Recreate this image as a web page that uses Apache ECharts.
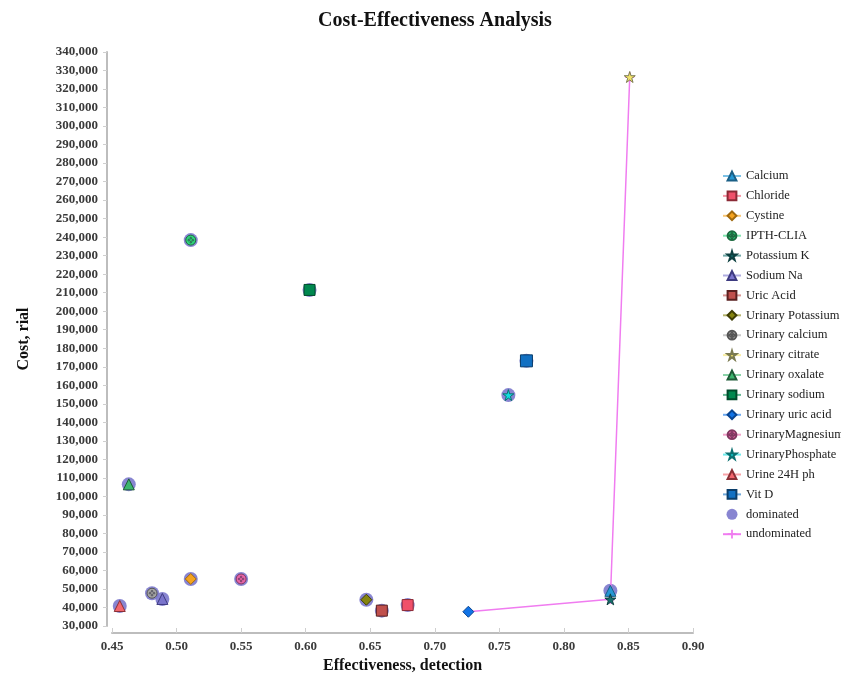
<!DOCTYPE html>
<html>
<head>
<meta charset="utf-8">
<script src="https://cdn.jsdelivr.net/npm/echarts@6/dist/echarts.min.js"></script>
<style>
html,body{margin:0;padding:0;background:#fff;}
#chart{width:841px;height:674px;}
</style>
</head>
<body>
<div id="chart"></div>
<script>
// ---- data ----
const categories = ['Calcium','Chloride','Cystine','IPTH-CLIA','Potassium K','Sodium Na','Uric Acid','Urinary Potassium','Urinary calcium','Urinary citrate','Urinary oxalate','Urinary sodium','Urinary uric acid','UrinaryMagnesium','UrinaryPhosphate','Urine 24H ph','Vit D'];
const effectiveness = [0.836, 0.679, 0.511, 0.511, 0.836, 0.489, 0.659, 0.647, 0.481, 0.851, 0.463, 0.603, 0.726, 0.550, 0.757, 0.456, 0.771];
const costs = [49000, 41300, 55400, 238400, 44400, 44600, 38300, 44200, 47700, 326500, 106500, 211500, 37700, 55400, 154700, 40800, 173200];
const undominatedNames = ['Urinary uric acid','Potassium K','Urinary citrate'];
const xTicks = {min:0.45, max:0.90, step:0.05};
const yTicks = {min:30000, max:340000, step:10000};

// ---- styles ----
const STAR = 'path://M50,0 L61,35 L98,35 L68,57 L79,91 L50,70 L21,91 L32,57 L2,35 L39,35 Z';
const CROSSED = 'path://M50,0 A50,50 0 1,1 50,100 A50,50 0 1,1 50,0 Z ' +
  'M50,22 A8,8 0 1,0 50,38 A8,8 0 1,0 50,22 Z ' +
  'M50,62 A8,8 0 1,0 50,78 A8,8 0 1,0 50,62 Z ' +
  'M30,42 A8,8 0 1,0 30,58 A8,8 0 1,0 30,42 Z ' +
  'M70,42 A8,8 0 1,0 70,58 A8,8 0 1,0 70,42 Z';
const styles = {
  'Calcium':          {symbol:'triangle', color:'#2598d4', border:'#1a5f86', size:11},
  'Chloride':         {symbol:'rect', color:'#f0506a', border:'#8a2a36', size:11},
  'Cystine':          {symbol:'diamond', color:'#f5a31e', border:'#a0690e', size:11},
  'IPTH-CLIA':        {symbol:CROSSED, color:'#2fd37a', border:'#1d6a40', size:10},
  'Potassium K':      {symbol:STAR, color:'#16706e', border:'#0d4040', size:11},
  'Sodium Na':        {symbol:'triangle', color:'#7a74cc', border:'#3d3a80', size:11},
  'Uric Acid':        {symbol:'rect', color:'#c0504d', border:'#5a2020', size:11},
  'Urinary Potassium':{symbol:'diamond', color:'#85840e', border:'#3e3d05', size:11},
  'Urinary calcium':  {symbol:CROSSED, color:'#a3a3a3', border:'#555555', size:10},
  'Urinary citrate':  {symbol:STAR, color:'#f3e36a', border:'#7a7a50', size:11},
  'Urinary oxalate':  {symbol:'triangle', color:'#3cb56e', border:'#1d5a36', size:11},
  'Urinary sodium':   {symbol:'rect', color:'#00884f', border:'#004a2b', size:11},
  'Urinary uric acid':{symbol:'diamond', color:'#1173e6', border:'#0a4590', size:11},
  'UrinaryMagnesium': {symbol:CROSSED, color:'#e866a8', border:'#803860', size:10},
  'UrinaryPhosphate': {symbol:STAR, color:'#12dde0', border:'#0a7070', size:11},
  'Urine 24H ph':     {symbol:'triangle', color:'#f3666e', border:'#8a3036', size:11},
  'Vit D':            {symbol:'rect', color:'#1270c2', border:'#0a3d6a', size:12}
};

const serif = '"Liberation Serif","Times New Roman",serif';

const series = categories.map((name, i) => {
  const s = styles[name];
  return {
    name: name,
    type: 'line',
    z: 4,
    data: [[effectiveness[i], costs[i]]],
    symbol: s.symbol,
    symbolSize: s.size,
    showSymbol: true,
    lineStyle: {color: s.color, width: 1, opacity: 0.6},
    itemStyle: {color: s.color, borderColor: s.border, borderWidth: 1}
  };
});

const dominatedData = [];
categories.forEach((name, i) => {
  if (undominatedNames.indexOf(name) < 0) dominatedData.push([effectiveness[i], costs[i]]);
});
series.push({
  name: 'dominated',
  type: 'scatter',
  z: 2,
  data: dominatedData,
  symbol: 'circle',
  symbolSize: 14,
  itemStyle: {color: '#7b78cc', opacity: 0.9}
});

const undomData = undominatedNames.map(n => {
  const i = categories.indexOf(n);
  return [effectiveness[i], costs[i]];
}).sort((a, b) => a[0] - b[0]);
series.push({
  name: 'undominated',
  type: 'line',
  z: 3,
  data: undomData,
  symbol: 'path://M4,0 H6 V4 H10 V6 H6 V10 H4 V6 H0 V4 H4 Z',
  symbolSize: 9,
  showSymbol: true,
  lineStyle: {color: '#f07cf0', width: 1.5},
  itemStyle: {color: '#f07cf0'}
});

const chart = echarts.init(document.getElementById('chart'), null, {renderer: 'canvas'});
chart.setOption({
  animation: false,
  backgroundColor: '#ffffff',
  title: {
    text: 'Cost-Effectiveness Analysis',
    left: 313, top: 6,
    textStyle: {fontFamily: serif, fontSize: 20, fontWeight: 'bold', color: '#111'}
  },
  legend: {
    orient: 'vertical',
    left: 717, top: 164,
    itemWidth: 18, itemHeight: 11, itemGap: 5.9,
    textStyle: {fontFamily: serif, fontSize: 12.5, lineHeight: 14, color: '#222'},
    data: categories.concat(['dominated', 'undominated'])
  },
  grid: {left: 112, right: 148, top: 52, bottom: 48, containLabel: false, outerBoundsMode: 'none'},
  xAxis: {
    type: 'value',
    min: xTicks.min, max: xTicks.max, interval: xTicks.step,
    offset: 7,
    name: 'Effectiveness, detection',
    nameLocation: 'middle', nameGap: 18,
    nameTextStyle: {fontFamily: serif, fontSize: 16, fontWeight: 'bold', color: '#111'},
    axisLine: {show: true, lineStyle: {color: '#bdbdbd', width: 2}},
    axisTick: {show: true, inside: true, length: 5, lineStyle: {color: '#cfcfcf'}},
    axisLabel: {fontFamily: serif, fontSize: 13, fontWeight: 'bold', color: '#3a3a3a', margin: 7,
      formatter: v => v.toFixed(2)},
    splitLine: {show: false}
  },
  yAxis: {
    type: 'value',
    min: yTicks.min, max: yTicks.max, interval: yTicks.step,
    offset: 5,
    name: 'Cost, rial',
    nameLocation: 'middle', nameGap: 75,
    nameTextStyle: {fontFamily: serif, fontSize: 16, fontWeight: 'bold', color: '#111'},
    axisLine: {show: true, lineStyle: {color: '#bdbdbd', width: 2}},
    axisTick: {show: true, length: 4, lineStyle: {color: '#cfcfcf'}},
    axisLabel: {fontFamily: serif, fontSize: 13, fontWeight: 'bold', color: '#3a3a3a', margin: 9,
      formatter: v => v.toLocaleString('en-US')},
    splitLine: {show: false}
  },
  series: series
});
</script>
</body>
</html>
